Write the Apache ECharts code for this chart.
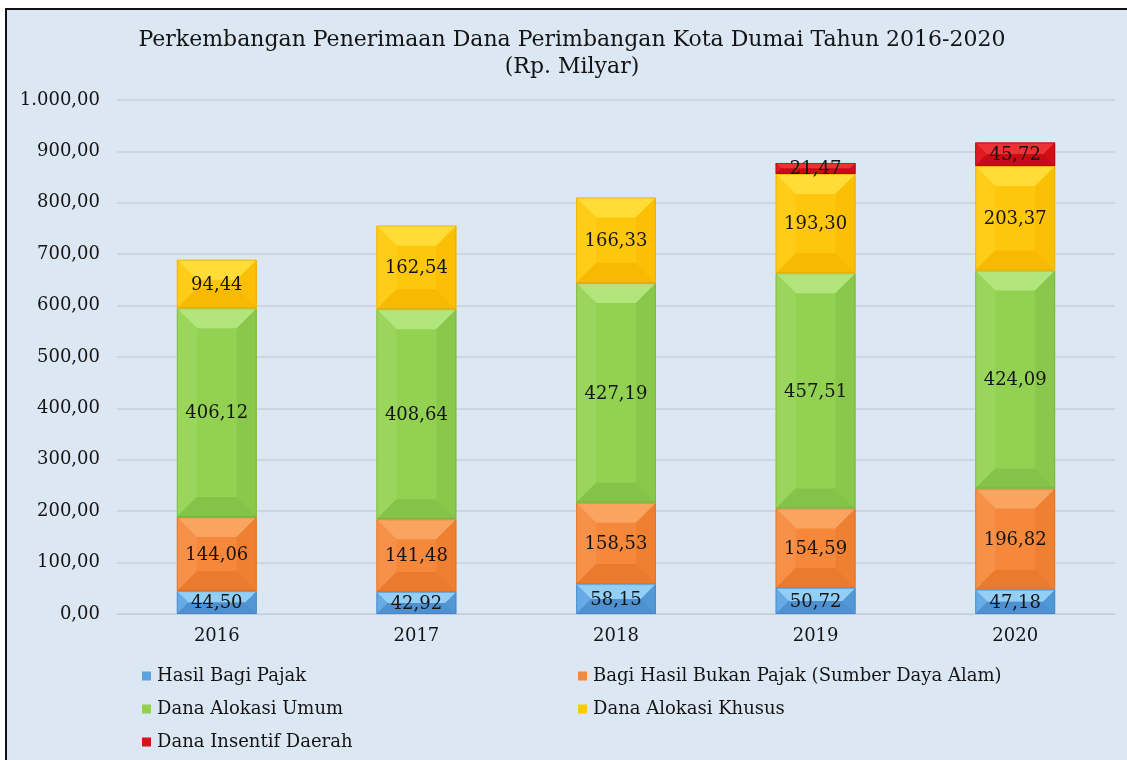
<!DOCTYPE html>
<html>
<head>
<meta charset="utf-8">
<title>Dana Perimbangan Kota Dumai 2016-2020</title>
<script src="https://cdn.jsdelivr.net/npm/echarts@6/dist/echarts.min.js"></script>
<style>
  html, body { margin: 0; padding: 0; background: #ffffff; overflow: hidden; }
  #frame {
    position: absolute; left: 5px; top: 8px; width: 1130px; height: 760px;
    border-left: 2px solid #111; border-top: 2px solid #111;
    background: #dce7f4;
  }
  #chart { position: absolute; left: 0; top: 0; width: 1127px; height: 760px; }
</style>
</head>
<body>
<div id="frame"></div>
<div id="chart"></div>
<script>
// Tahun anggaran
const years = ['2016', '2017', '2018', '2019', '2020'];

// Komponen dana perimbangan (Rp. Milyar)
const hasilBagiPajak = [44.50, 42.92, 58.15, 50.72, 47.18];
const bagiHasilBukanPajak = [144.06, 141.48, 158.53, 154.59, 196.82];
const danaAlokasiUmum = [406.12, 408.64, 427.19, 457.51, 424.09];
const danaAlokasiKhusus = [94.44, 162.54, 166.33, 193.30, 203.37];
const danaInsentifDaerah = [null, null, null, 21.47, 45.72];

const seriesNames = [
  'Hasil Bagi Pajak',
  'Bagi Hasil Bukan Pajak (Sumber Daya Alam)',
  'Dana Alokasi Umum',
  'Dana Alokasi Khusus',
  'Dana Insentif Daerah'
];
const seriesValues = [hasilBagiPajak, bagiHasilBukanPajak, danaAlokasiUmum, danaAlokasiKhusus, danaInsentifDaerah];

// Bevel shades: face, top, left, right, bottom, outline
const palettes = [
  { face: '#5ba2e0', top: '#93cff5', left: '#66aae6', right: '#5398d6', bottom: '#4f91d0', line: '#3f7cbc' },
  { face: '#f5883a', top: '#f9a460', left: '#f79048', right: '#ef8032', bottom: '#ea7b2e', line: '#cf6a22' },
  { face: '#93d153', top: '#b2e57c', left: '#9bd65c', right: '#8ac84c', bottom: '#85c248', line: '#70a83c' },
  { face: '#ffc70c', top: '#ffdc36', left: '#ffcc18', right: '#fbbf06', bottom: '#f7b902', line: '#d9a200' },
  { face: '#dc1219', top: '#ee3134', left: '#e01a20', right: '#d20f16', bottom: '#c60d13', line: '#9a0a0e' }
];

function fmtNum(v) {
  const parts = v.toFixed(2).split('.');
  parts[0] = parts[0].replace(/\B(?=(\d{3})+(?!\d))/g, '.');
  return parts[0] + ',' + parts[1];
}

// Stack the components: each item carries [category, base, top, value]
const running = years.map(() => 0);
const stackedData = seriesValues.map(vals => vals.map((v, i) => {
  if (v == null) return [i, running[i], running[i], null];
  const base = running[i];
  running[i] += v;
  return [i, base, running[i], v];
}));

const FONT = '"DejaVu Serif", "Liberation Serif", serif';

function makeRenderItem(pal) {
  return function (params, api) {
    const v = api.value(3);
    if (v == null || isNaN(v)) return null;
    const idx = api.value(0);
    const pBase = api.coord([idx, api.value(1)]);
    const pTop = api.coord([idx, api.value(2)]);
    const band = api.size([1, 0])[0];
    const w = band * 0.4;
    const x0 = pBase[0] - w / 2, x1 = pBase[0] + w / 2;
    const yT = pTop[1], yB = pBase[1];
    const h = yB - yT;
    const b = Math.min(20, h / 2, w / 2);
    return {
      type: 'group',
      children: [
        { type: 'rect', shape: { x: x0, y: yT, width: w, height: h }, style: { fill: pal.face } },
        { type: 'polygon', shape: { points: [[x0, yT], [x1, yT], [x1 - b, yT + b], [x0 + b, yT + b]] }, style: { fill: pal.top } },
        { type: 'polygon', shape: { points: [[x0, yT], [x0 + b, yT + b], [x0 + b, yB - b], [x0, yB]] }, style: { fill: pal.left } },
        { type: 'polygon', shape: { points: [[x1, yT], [x1, yB], [x1 - b, yB - b], [x1 - b, yT + b]] }, style: { fill: pal.right } },
        { type: 'polygon', shape: { points: [[x0, yB], [x0 + b, yB - b], [x1 - b, yB - b], [x1, yB]] }, style: { fill: pal.bottom } },
        { type: 'rect', shape: { x: x0 + 0.5, y: yT + 0.5, width: w - 1, height: h - 1 }, style: { fill: 'none', stroke: pal.line, lineWidth: 1, opacity: 0.5 } },
        {
          type: 'text', z2: 100,
          style: {
            text: fmtNum(v), x: pBase[0], y: (yT + yB) / 2 + 1,
            align: 'center', verticalAlign: 'middle',
            fontSize: 18, fontFamily: FONT, fill: '#141414'
          }
        }
      ]
    };
  };
}

const chart = echarts.init(document.getElementById('chart'), null, { renderer: 'canvas' });

const legendText = { fontSize: 18, fontFamily: FONT, color: '#141414', lineHeight: 20, padding: [0, 0, 0, 1] };

const option = {
  backgroundColor: 'transparent',
  animation: false,
  graphic: [
    {
      type: 'text', x: 572, y: 40,
      style: {
        text: 'Perkembangan Penerimaan Dana Perimbangan Kota Dumai Tahun 2016-2020',
        align: 'center', verticalAlign: 'middle', fontSize: 22, fontFamily: FONT, fill: '#141414'
      }
    },
    {
      type: 'text', x: 572, y: 67,
      style: {
        text: '(Rp. Milyar)',
        align: 'center', verticalAlign: 'middle', fontSize: 22, fontFamily: FONT, fill: '#141414'
      }
    }
  ],
  grid: { left: 117, right: 12, top: 100, bottom: 146 },
  xAxis: {
    type: 'category',
    data: years,
    axisTick: { show: false },
    axisLine: { lineStyle: { color: '#c3ccd6', width: 1 } },
    axisLabel: { fontSize: 18, fontFamily: FONT, color: '#141414', margin: 13 }
  },
  yAxis: {
    type: 'value',
    min: 0, max: 1000, interval: 100,
    axisLine: { show: false },
    axisTick: { show: false },
    splitLine: { lineStyle: { color: '#c9d1da', width: 1.5 } },
    axisLabel: { fontSize: 18, fontFamily: FONT, color: '#141414', margin: 17, formatter: fmtNum }
  },
  legend: [
    {
      data: [seriesNames[0], seriesNames[2], seriesNames[4]],
      orient: 'vertical', left: 142, top: 666, height: 94, padding: 0,
      icon: 'rect', itemWidth: 9, itemHeight: 9, itemGap: 13,
      textStyle: legendText
    },
    {
      data: [seriesNames[1], seriesNames[3]],
      orient: 'vertical', left: 578, top: 666, height: 94, padding: 0,
      icon: 'rect', itemWidth: 9, itemHeight: 9, itemGap: 13,
      textStyle: legendText
    }
  ],
  series: seriesNames.map((name, k) => ({
    name: name,
    type: 'custom',
    coordinateSystem: 'cartesian2d',
    itemStyle: { color: palettes[k].face },
    encode: { x: 0, y: [1, 2] },
    renderItem: makeRenderItem(palettes[k]),
    data: stackedData[k]
  }))
};

chart.setOption(option);
</script>
</body>
</html>
